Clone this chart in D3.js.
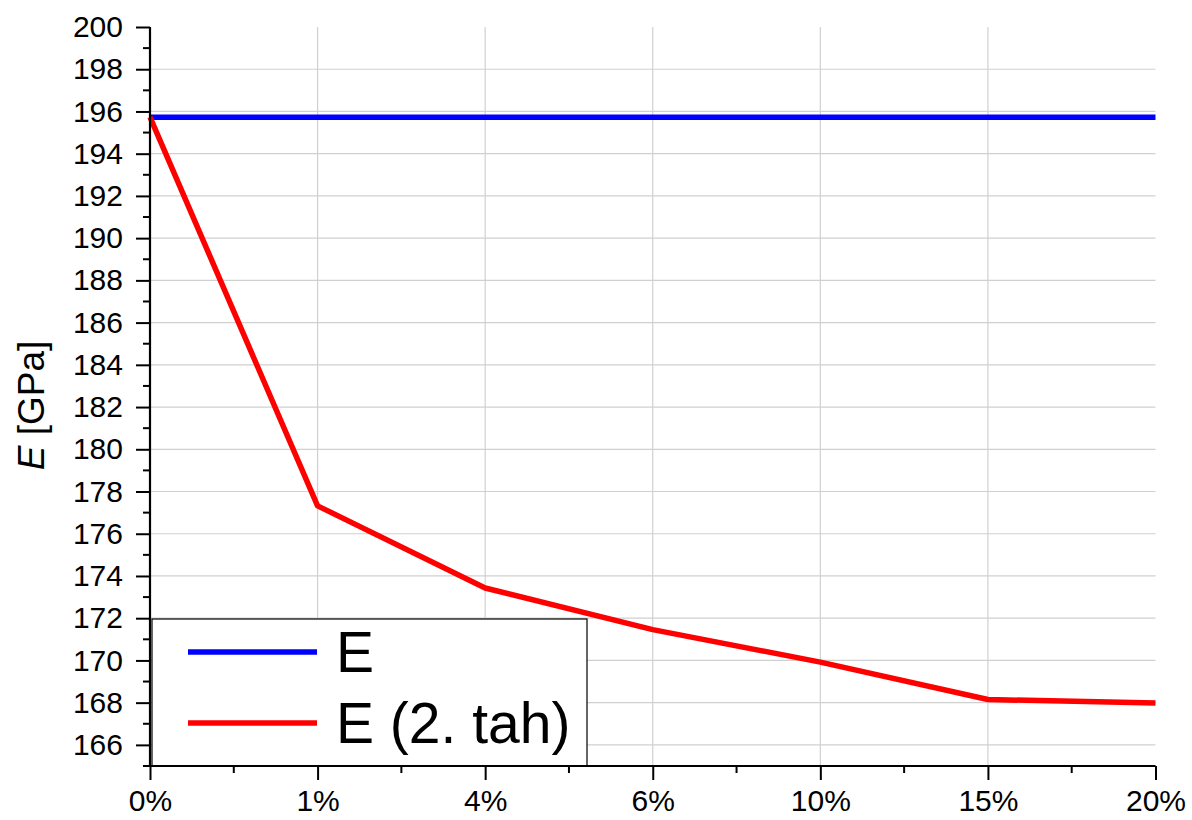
<!DOCTYPE html>
<html>
<head>
<meta charset="utf-8">
<script src="https://cdn.jsdelivr.net/npm/d3@7/dist/d3.min.js"></script>
<style>
  html, body { margin: 0; padding: 0; background: #fff; }
  svg { display: block; font-family: Arial, "Liberation Sans", sans-serif; }
</style>
</head>
<body>
<svg id="chart" width="1192" height="820"></svg>
<script>
// Strain levels (category axis)
const categories = ["0%", "1%", "4%", "6%", "10%", "15%", "20%"];
// Young's modulus, reference value
const seriesE = [195.73, 195.73, 195.73, 195.73, 195.73, 195.73, 195.73];
// Young's modulus after the 2nd tension
const seriesE2 = [195.73, 177.32, 173.43, 171.46, 169.92, 168.15, 167.98];
const seriesNames = ["E", "E (2. tah)"];
const seriesColors = ["#0000ff", "#ff0000"];
const yMajorTicks = d3.range(166, 201, 2);
const yMinorTicks = d3.range(165, 200, 2);

(function draw() {
  const svg = d3.select("#chart");
  const pLeft = 150, pRight = 1155.5, pTop = 27, pBottom = 766;

  const x = d3.scalePoint().domain(categories).range([pLeft, pRight]);
  const y = d3.scaleLinear().domain([165, 200]).range([pBottom, pTop]);

  // grid
  const grid = svg.append("g").attr("stroke", "#d0d0d0").attr("stroke-width", 1.2);
  grid.selectAll("line.h").data(yMajorTicks.filter(v => v < 200)).join("line")
    .attr("class", "h")
    .attr("x1", pLeft).attr("x2", pRight)
    .attr("y1", d => y(d)).attr("y2", d => y(d));
  grid.selectAll("line.v").data(categories.slice(1, -1)).join("line")
    .attr("class", "v")
    .attr("x1", d => x(d)).attr("x2", d => x(d))
    .attr("y1", pTop).attr("y2", pBottom);

  // series lines
  const line = d3.line().x((d, i) => x(categories[i])).y(d => y(d));
  [seriesE, seriesE2].forEach((s, k) => {
    svg.append("path").datum(s)
      .attr("fill", "none")
      .attr("stroke", seriesColors[k])
      .attr("stroke-width", 5.5)
      .attr("stroke-linejoin", "round")
      .attr("d", line);
  });

  // legend
  const lg = svg.append("g");
  lg.append("rect")
    .attr("x", 152).attr("y", 619).attr("width", 435).attr("height", pBottom - 619)
    .attr("fill", "#fff").attr("stroke", "#000").attr("stroke-width", 1.2);
  const legendRows = [652, 723];
  seriesNames.forEach((name, k) => {
    lg.append("line")
      .attr("x1", 188).attr("x2", 317)
      .attr("y1", legendRows[k]).attr("y2", legendRows[k])
      .attr("stroke", seriesColors[k]).attr("stroke-width", 5.5);
    lg.append("text")
      .attr("x", 336).attr("y", legendRows[k] + 20)
      .attr("font-size", 57).attr("fill", "#000")
      .text(name);
  });

  // y axis
  const yAxis = d3.axisLeft(y).tickValues(yMajorTicks).tickSize(14).tickPadding(13);
  const gy = svg.append("g").attr("transform", `translate(${pLeft},0)`).call(yAxis);
  gy.selectAll(".tick text").attr("font-size", 30).attr("fill", "#000")
    .attr("font-family", "Arial, 'Liberation Sans', sans-serif");
  gy.selectAll(".tick line").attr("stroke-width", 2);
  gy.select(".domain").attr("stroke-width", 2.2).attr("d", `M0,${pTop}V${pBottom}`);
  gy.append("g").selectAll("line").data(yMinorTicks).join("line")
    .attr("x1", -7).attr("x2", 0)
    .attr("y1", d => y(d)).attr("y2", d => y(d))
    .attr("stroke", "#000").attr("stroke-width", 2);

  // x axis
  const xAxis = d3.axisBottom(x).tickSize(14).tickPadding(10);
  const gx = svg.append("g").attr("transform", `translate(0,${pBottom})`).call(xAxis);
  gx.selectAll(".tick text").attr("font-size", 30).attr("fill", "#000")
    .attr("font-family", "Arial, 'Liberation Sans', sans-serif");
  gx.selectAll(".tick line").attr("stroke-width", 2);
  gx.select(".domain").attr("stroke-width", 2.2).attr("d", `M${pLeft},0H${pRight}`);
  const mids = categories.slice(0, -1).map(c => x(c) + x.step() / 2);
  gx.append("g").selectAll("line").data(mids).join("line")
    .attr("x1", d => d).attr("x2", d => d)
    .attr("y1", 0).attr("y2", 7)
    .attr("stroke", "#000").attr("stroke-width", 2);

  // y axis title
  const title = svg.append("text")
    .attr("transform", `translate(44,${(pTop + pBottom) / 2 + 9}) rotate(-90)`)
    .attr("text-anchor", "middle")
    .attr("font-size", 37).attr("fill", "#000");
  title.append("tspan").attr("font-style", "italic").text("E");
  title.append("tspan").text(" [GPa]");
})();
</script>
</body>
</html>
